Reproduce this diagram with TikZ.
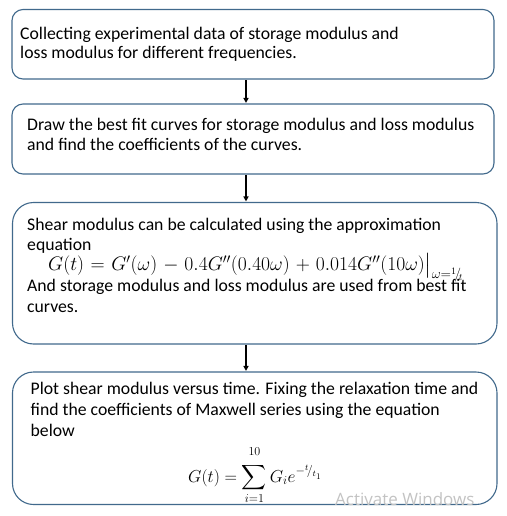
\documentclass[tikz,border=0pt]{standalone}
\usepackage{fix-cm}
\usepackage[no-math]{fontspec}
\setmainfont{Carlito}
\newfontfamily\wmfont{Open Sans}
\usepackage{amsmath}
\usetikzlibrary{arrows.meta}
\definecolor{bord}{RGB}{65,105,140}
\definecolor{wmgray}{RGB}{195,195,195}
\begin{document}
\begin{tikzpicture}[x=1pt,y=-1pt,
  box/.style={draw=bord,line width=1.1pt,rounded corners=#1,inner sep=0pt,fill=white},
  line/.style={anchor=base west,inner sep=0pt,font=\fontsize{17.7}{20}\selectfont},
  arr/.style={-{Triangle[length=5pt,width=5pt]},line width=1.6pt,black,shorten <=0.5pt,shorten >=0.5pt}]
\useasboundingbox (0,0) rectangle (506,516);
\fill[white] (0,0) rectangle (506,516);
% boxes
\node[box=11pt,minimum width=482pt,minimum height=69.5pt] (b1) at (253,44.25) {};
\node[box=11pt,minimum width=482pt,minimum height=70pt] (b2) at (253,139) {};
\node[box=21pt,minimum width=484.5pt,minimum height=141.5pt] (b3) at (254.75,273.25) {};
\node[box=21pt,minimum width=484.5pt,minimum height=132.5pt] (b4) at (254.75,438.25) {};
\coordinate (ax) at (246,0);
% arrows
\draw[arr] (b1.south -| ax) -- (b2.north -| ax);
\draw[arr] (b2.south -| ax) -- (b3.north -| ax);
\draw[arr] (b3.south -| ax) -- (b4.north -| ax);
% box 1
\node[line] (t11) at (20,39.5) {Collecting experimental data of storage modulus and};
\node[line] (t12) at (20,59) {loss modulus for different frequencies.};
% box 2
\node[line] (t21) at (27,131) {Draw the best fit curves for storage modulus and loss modulus};
\node[line] (t22) at (27,150.5) {and find the coefficients of the curves.};
% box 3
\node[line] (t31) at (27,230) {Shear modulus can be calculated using the approximation};
\node[line] (t32) at (27,250) {equation};
\node[line,font=\fontsize{19.6}{22}\selectfont] (t33) at (48,270.5) {\medmuskip=5.5mu\thickmuskip=6mu$G(t) = G'(\omega) - 0.4G''(0.40\omega) + 0.014G''(10\omega)\bigr|_{\omega={}^{1}\!/\!_{t}}$};
\node[line] (t34) at (27,291.7) {And storage modulus and loss modulus are used from best fit};
\node[line] (t35) at (27,312.7) {curves.};
% box 4
\node[line] (t41) at (30.5,394.3) {Plot shear modulus versus time. Fixing the relaxation time and};
\node[line] (t42) at (30.5,415) {find the coefficients of Maxwell series using the equation};
\node[line] (t43) at (30.5,436) {below};
\node[line,font=\fontsize{17.3}{20}\selectfont] (t44) at (188,482) {$\displaystyle G(t) = \sum_{i=1}^{\rule[-6pt]{0pt}{6pt}10} G_i e^{-{}^{t}\!/_{t_1}}$};
% watermark
\node[anchor=base west,inner sep=0pt,text=wmgray,font=\wmfont\fontsize{17}{17}\selectfont] (wm) at (335,505.5) {Activate Windows};
\end{tikzpicture}
\end{document}
